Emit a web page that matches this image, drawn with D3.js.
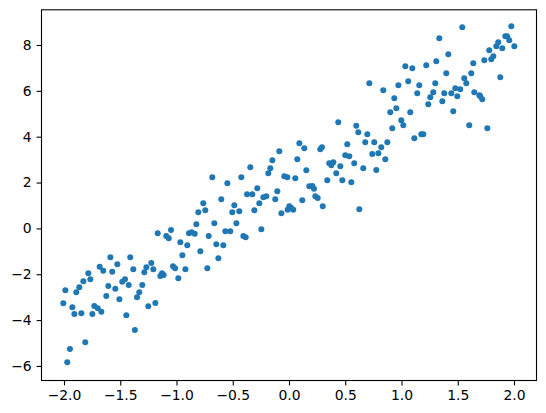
<!DOCTYPE html>
<html><head><meta charset="utf-8">
<script src="https://cdn.jsdelivr.net/npm/d3@7"></script>
<style>body{margin:0;background:#fff}svg{display:block}</style>
</head><body>
<script>
const xs = [-1.784,-1.766,-1.828,-1.864,-1.891,-1.988,-2.006,-1.926,-1.908,-1.846,-1.748,-1.731,-1.811,-1.947,-1.971,
-1.588,-1.411,-1.683,-1.651,-1.526,-1.571,-1.458,-1.482,-1.425,-1.606,-1.544,-1.624,-1.508,-1.70,-1.668,-1.446,-1.37,
-1.167,-1.091,-1.069,-1.049,-1.384,-1.268,-1.224,-1.286,-1.206,-1.129,-1.114,-1.144,-1.304,-1.331,-1.351,-1.188,-1.251,
-0.762,-0.744,-0.806,-0.824,-0.889,-0.865,-0.838,-0.714,-0.966,-0.904,-0.788,-0.948,-1.031,-1.013,-0.921,-0.726,-0.984,
-0.682,-0.424,-0.548,-0.373,-0.602,-0.486,-0.504,-0.442,-0.664,-0.468,-0.566,-0.522,-0.406,-0.385,-0.646,-0.584,-0.628,
-0.086,-0.344,-0.148,-0.166,-0.184,-0.042,-0.282,-0.326,-0.228,-0.202,-0.104,-0.122,-0.264,-0.308,-0.068,-0.246,
0.092,0.136,0.278,0.293,0.074,0.154,-0.015,0.056,0.18,0.207,0.222,0.234,0.255,0.118,0.30,0.003,0.018,-0.012,0.038,
0.438,0.598,0.616,0.518,0.50,0.536,0.358,0.376,0.394,0.456,0.58,0.42,0.34,0.474,0.554,0.625,
0.714,0.838,0.972,0.936,0.90,0.954,0.918,0.696,0.678,0.758,0.874,0.82,0.74,0.794,0.856,0.66,0.776,
1.034,1.096,1.22,1.309,1.06,1.158,1.30,1.14,1.282,1.256,1.238,1.078,0.998,1.016,1.114,1.176,1.194,
1.54,1.336,1.416,1.638,1.398,1.62,1.558,1.576,1.478,1.522,1.38,1.443,1.496,1.647,1.363,1.46,1.602,
1.976,1.923,1.94,1.958,2.003,1.86,1.843,1.896,1.78,1.816,1.798,1.736,1.878,1.692,1.70,1.718,1.763];
const ys = [-1.958,-2.22,-2.307,-2.569,-2.787,-2.70,-3.266,-3.441,-3.733,-3.703,-3.733,-3.384,-4.967,-5.26,-5.84,
-1.26,-1.26,-1.67,-1.845,-1.566,-1.888,-2.22,-2.324,-2.468,-2.512,-2.63,-2.948,-3.092,-3.485,-3.633,-3.79,-4.43,
-0.214,-0.331,-0.432,-0.07,-1.784,-1.696,-1.509,-1.915,-1.784,-1.958,-2.032,-2.076,-2.468,-2.787,-3.005,-3.253,-3.397,
1.095,0.789,0.702,0.179,-0.214,-0.17,-0.231,-0.331,-0.606,-0.737,-0.999,-1.173,-1.653,-1.74,-1.784,-1.74,-2.176,
2.229,2.229,1.967,1.487,1.269,1.007,0.702,0.746,0.222,0.222,-0.126,-0.126,-0.331,-0.388,-0.693,-0.737,-1.304,
3.362,2.665,2.97,2.621,2.403,2.272,1.749,1.487,1.356,1.40,1.618,1.269,1.095,0.789,0.659,-0.039,
3.711,3.493,3.45,3.537,3.014,2.534,2.229,2.185,1.836,1.849,1.731,1.40,1.326,1.225,0.964,0.964,0.903,0.816,0.816,
4.627,4.479,4.191,3.668,3.188,3.144,2.839,2.752,2.883,2.708,2.839,2.403,2.098,2.098,2.01,0.833,
6.328,6.023,6.241,5.674,5.063,5.238,4.365,4.104,3.755,3.755,3.755,3.537,3.245,3.275,3.014,2.621,2.547,
7.069,6.982,7.113,7.287,6.415,6.241,6.328,5.892,5.935,5.717,5.412,5.063,4.714,4.496,3.929,4.104,4.104,
8.77,8.29,7.593,7.20,6.764,6.764,6.546,6.328,6.11,6.066,5.892,5.892,5.761,5.935,5.543,5.107,4.496,
8.814,8.378,8.378,8.203,7.941,8.116,7.941,7.854,7.767,7.506,7.375,7.331,6.59,5.805,5.761,5.63,4.365];
const xTicks = [-2.0,-1.5,-1.0,-0.5,0.0,0.5,1.0,1.5,2.0];
const yTicks = [-6,-4,-2,0,2,4,6,8];

const W = 546, H = 413;
const L = 41.5, R = 536.5, T = 9.8, B = 380.5;
const svg = d3.select("body").append("svg").attr("width", W).attr("height", H)
  .style("font-family", "DejaVu Sans").style("font-size", "13.9px");

const x = d3.scaleLinear().domain([-2.2, 2.2]).range([L, R]);
const y = d3.scaleLinear().domain([-6.635, 9.535]).range([B, T]);
const fmt = v => (v < 0 ? "\u2212" : "") + Math.abs(v).toFixed(1);
const fmtY = v => (v < 0 ? "\u2212" : "") + Math.abs(v);

const pts = xs.map((v, i) => [v, ys[i]]);
svg.append("g").selectAll("circle").data(pts).join("circle")
  .attr("cx", d => x(d[0])).attr("cy", d => y(d[1])).attr("r", 3)
  .attr("fill", "#1f77b4");

const xa = svg.append("g").attr("transform", `translate(0,${B})`)
  .call(d3.axisBottom(x).tickValues(xTicks).tickFormat(fmt).tickSize(4.9).tickPadding(4.9));
const ya = svg.append("g").attr("transform", `translate(${L},0)`)
  .call(d3.axisLeft(y).tickValues(yTicks).tickFormat(fmtY).tickSize(4.9).tickPadding(4.9));
[xa, ya].forEach(a => {
  a.select(".domain").remove();
  a.selectAll("line").attr("stroke", "#000").attr("stroke-width", 1.1);
  a.selectAll("text").attr("fill", "#000").style("font-family", "DejaVu Sans").style("font-size", "13.9px");
});
svg.append("rect").attr("x", L).attr("y", T).attr("width", R - L).attr("height", B - T)
  .attr("fill", "none").attr("stroke", "#000").attr("stroke-width", 1.1);
</script>
</body></html>
